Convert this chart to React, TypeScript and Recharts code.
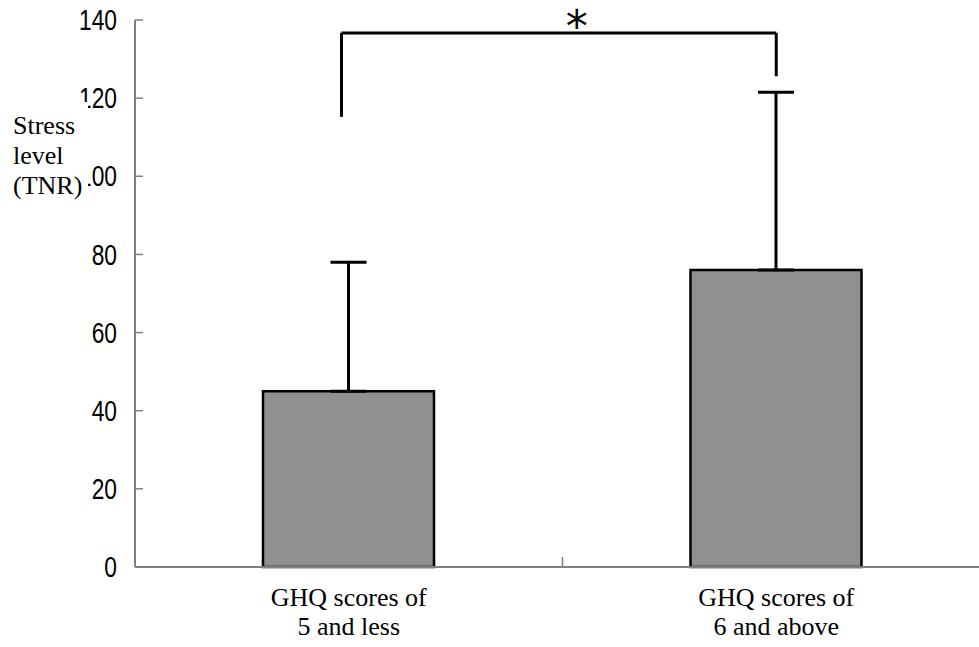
import { BarChart, Bar, XAxis, YAxis, ErrorBar, ReferenceLine } from "recharts";

/* data */
const categories = ["GHQ scores of\n5 and less", "GHQ scores of\n6 and above"];
const stressMeans = [45, 76];
const stressSd = [33, 45.5];
const yTicks = [0, 20, 40, 60, 80, 100, 120, 140];

// significance bracket: left/right anchor (x), leg bottoms and bar height (y)
const bracketX = [0.483, 1.5];
const bracketLegs = [115.2, 125.6];
const bracketTop = 136.7;

const rows = categories.map((name, i) => ({
  name,
  pos: i + 0.5,
  mean: stressMeans[i],
  err: [0, stressSd[i]],
}));

const SANS = "'Liberation Sans', Arial, sans-serif";
const SERIF = "'Liberation Serif', 'DejaVu Serif', serif";

function CategoryTick(props: any) {
  const { x, y, payload } = props;
  const v = payload.value;
  if (v === 1) {
    return <line x1={x} x2={x} y1={y} y2={y - 10} stroke="#808080" strokeWidth={1.5} />;
  }
  const idx = Math.round(v - 0.5);
  const lines = (categories[idx] || "").split("\n");
  return (
    <text x={x} y={y} textAnchor="middle" fontFamily={SERIF} fontSize={26} fill="#000">
      {lines.map((l, i) => (
        <tspan key={i} x={x} dy={i === 0 ? 39 : 29}>
          {l}
        </tspan>
      ))}
    </text>
  );
}

// narrow, tall digits like the reference's condensed face
function ValueTick(props: any) {
  const { x, y, payload } = props;
  return (
    <text
      transform={`translate(${x},${y}) scale(0.76,1)`}
      textAnchor="end"
      dominantBaseline="central"
      fontFamily={SANS}
      fontSize={30}
      fill="#000"
    >
      {payload.value}
    </text>
  );
}

export default function App() {
  return (
    <div
      style={{
        position: "absolute",
        left: 0,
        top: 0,
        width: 979,
        height: 647,
        overflow: "hidden",
        background: "#fff",
      }}
    >
      <BarChart
        width={990}
        height={647}
        data={rows}
        margin={{ top: 20, right: 0, bottom: 0, left: 0 }}
      >
        <XAxis
          dataKey="pos"
          type="number"
          domain={[0, 2]}
          ticks={[0.5, 1, 1.5]}
          height={80}
          tickLine={false}
          tickSize={0}
          tickMargin={0}
          stroke="#808080"
          strokeWidth={2}
          tick={<CategoryTick />}
          interval={0}
        />
        <YAxis
          type="number"
          domain={[0, 140]}
          ticks={yTicks}
          width={135}
          tickSize={-8}
          tickMargin={26}
          stroke="#808080"
          strokeWidth={2}
          tickLine={{ stroke: "#808080", strokeWidth: 1.5 }}
          tick={<ValueTick />}
          interval={0}
        />
        <Bar
          dataKey="mean"
          barSize={171}
          fill="#909090"
          stroke="#000"
          strokeWidth={2.5}
          isAnimationActive={false}
        >
          <ErrorBar dataKey="err" width={18} stroke="#000" strokeWidth={3} direction="y" />
        </Bar>
        <ReferenceLine
          segment={[
            { x: bracketX[0], y: bracketLegs[0] },
            { x: bracketX[0], y: bracketTop },
          ]}
          stroke="#000"
          strokeWidth={3}
        />
        <ReferenceLine
          segment={[
            { x: bracketX[1], y: bracketLegs[1] },
            { x: bracketX[1], y: bracketTop },
          ]}
          stroke="#000"
          strokeWidth={3}
        />
        <ReferenceLine
          segment={[
            { x: bracketX[0], y: bracketTop },
            { x: bracketX[1], y: bracketTop },
          ]}
          stroke="#000"
          strokeWidth={3}
          label={{
            value: "*",
            position: "top",
            offset: -9,
            dx: 18,
            style: { fontFamily: "'DejaVu Sans', sans-serif", fontSize: 44, fill: "#000" },
          }}
        />
      </BarChart>
      <div
        style={{
          position: "absolute",
          left: 0,
          top: 102,
          width: 88,
          height: 110,
          paddingLeft: 13,
          paddingTop: 9,
          boxSizing: "border-box",
          background: "#fff",
          fontFamily: SERIF,
          fontSize: 26,
          lineHeight: "30px",
          color: "#000",
        }}
      >
        Stress
        <br />
        level
        <br />
        (TNR)
      </div>
    </div>
  );
}
